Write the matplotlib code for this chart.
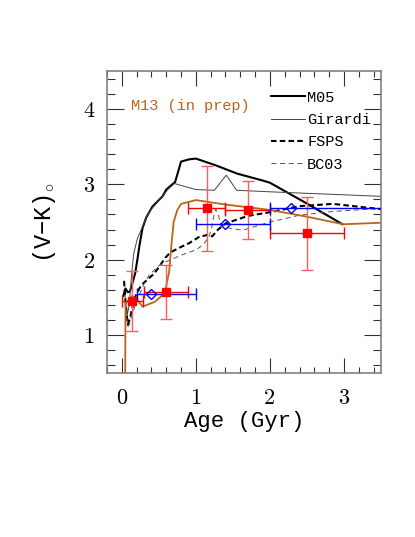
import matplotlib
matplotlib.use('Agg')
import matplotlib.pyplot as plt
from matplotlib.ticker import MultipleLocator
import numpy as np

plt.rcParams['font.family'] = 'cmr10'
plt.rcParams['axes.unicode_minus'] = False
plt.rcParams['mathtext.fontset'] = 'cm'
plt.rcParams['lines.scale_dashes'] = False

# ---------------- data ----------------
m05_age = [0.02, 0.05, 0.08, 0.11, 0.14, 0.18, 0.21, 0.24, 0.28, 0.33, 0.37, 0.41, 0.47, 0.55,
           0.60, 0.66, 0.72, 0.80, 0.91, 1.00, 1.27, 1.56, 1.90, 2.00, 2.49, 2.98]
m05_vk = [1.52, 1.62, 1.57, 1.58, 1.68, 1.82, 2.00, 2.20, 2.42, 2.56, 2.63, 2.70, 2.76, 2.84,
          2.93, 2.98, 3.03, 3.30, 3.33, 3.34, 3.25, 3.14, 3.05, 3.02, 2.75, 2.47]

gir_age = [0.04, 0.07, 0.10, 0.13, 0.16, 0.21, 0.28, 0.34, 0.39, 0.47, 0.55, 0.62, 0.71, 0.85,
           1.00, 1.25, 1.41, 1.55, 2.00, 2.50, 3.00, 3.50]
gir_vk = [1.55, 1.25, 1.40, 1.78, 2.08, 2.28, 2.44, 2.58, 2.66, 2.75, 2.84, 2.93, 3.01, 2.97,
          2.93, 2.92, 3.12, 2.92, 2.90, 2.88, 2.86, 2.84]

fsps_age = [0.03, 0.05, 0.08, 0.11, 0.14, 0.19, 0.26, 0.36, 0.44, 0.52, 0.59, 0.66, 0.80, 0.91,
            1.04, 1.16, 1.22, 1.30, 1.40, 1.70, 2.00, 2.40, 2.85, 3.50]
fsps_vk = [1.72, 1.45, 1.14, 1.22, 1.36, 1.53, 1.66, 1.75, 1.82, 1.93, 2.03, 2.10, 2.17, 2.22,
           2.30, 2.33, 2.31, 2.40, 2.48, 2.58, 2.63, 2.71, 2.74, 2.67]

bc03_age = [0.05, 0.08, 0.10, 0.13, 0.20, 0.30, 0.37, 0.50, 0.59, 0.80, 1.00, 1.10, 1.18, 1.22,
            1.25, 1.27, 1.31, 1.34, 1.45, 1.63, 2.00, 2.40, 2.85, 3.50]
bc03_vk = [1.45, 1.11, 1.14, 1.25, 1.45, 1.68, 1.80, 1.92, 1.97, 2.06, 2.13, 2.20, 2.31, 2.45,
           2.62, 2.67, 2.57, 2.46, 2.42, 2.39, 2.50, 2.59, 2.64, 2.68]

m13_age = [0.045, 0.05, 0.10, 0.14, 0.19, 0.28, 0.44, 0.55, 0.59, 0.64, 0.67, 0.70, 0.75, 0.80,
           1.00, 1.41, 2.00, 2.50, 2.99, 3.50]
m13_vk = [0.30, 1.42, 1.47, 1.52, 1.49, 1.38, 1.44, 1.53, 1.60, 1.85, 2.20, 2.50, 2.66, 2.74,
          2.79, 2.73, 2.66, 2.57, 2.47, 2.49]

red_age = [0.14, 0.60, 1.15, 1.70, 2.50]
red_vk = [1.45, 1.57, 2.68, 2.66, 2.35]
red_age_err = [0.14, 0.30, 0.25, 0.30, 0.50]
red_vk_err = [0.40, 0.36, 0.56, 0.38, 0.48]

blue_age = [0.40, 1.40, 2.28]
blue_vk = [1.54, 2.48, 2.69]
blue_age_lo = [0.20, 1.00, 2.00]
blue_age_hi = [1.00, 2.00, 4.00]

model_labels = ['M05', 'Girardi', 'FSPS', 'BC03']
x_ticks = [0, 1, 2, 3]
y_ticks = [1, 2, 3, 4]

ORANGE = '#b8651e'
MONO = 'Liberation Mono'

# ---------------- figure ----------------
fig = plt.figure(figsize=(4.15, 5.37), dpi=100)
ax = fig.add_axes([107 / 415, 164 / 537, 274 / 415, 302 / 537])

l1, = ax.plot(m05_age, m05_vk, color='black', lw=1.5, label=model_labels[0])
l2, = ax.plot(gir_age, gir_vk, color='#444444', lw=0.7, label=model_labels[1])
l3, = ax.plot(fsps_age, fsps_vk, color='black', lw=1.5, ls=(0, (4.0, 2.3)), label=model_labels[2])
l4, = ax.plot(bc03_age, bc03_vk, color='#555555', lw=0.7, ls=(0, (3.6, 2.6)), label=model_labels[3])
ax.plot(m13_age, m13_vk, color=ORANGE, lw=1.3)

# red data
ax.errorbar(red_age, red_vk, yerr=red_vk_err, fmt='none', ecolor='#ff5c5c',
            elinewidth=1.0, capsize=4.5, capthick=1.0, zorder=4)
ax.errorbar(red_age, red_vk, xerr=red_age_err, fmt='none', ecolor='red',
            elinewidth=1.0, capsize=4.5, capthick=1.0, zorder=4)
ax.plot(red_age, red_vk, 's', color='red', ms=6, zorder=5)

# blue data
b_age = np.array(blue_age)
b_err = [b_age - np.array(blue_age_lo), np.array(blue_age_hi) - b_age]
ax.errorbar(blue_age, blue_vk, xerr=b_err, fmt='none', ecolor='blue',
            elinewidth=1.0, capsize=4.5, capthick=1.0, zorder=4)
ax.plot(blue_age, blue_vk, 'D', mfc='none', mec='blue', mew=1.0, ms=5.3, zorder=5)

ax.set_xlim(-0.2, 3.5)
ax.set_ylim(0.5, 4.5)
ax.set_xticks(x_ticks)
ax.set_yticks(y_ticks)
ax.xaxis.set_minor_locator(MultipleLocator(0.2))
ax.yaxis.set_minor_locator(MultipleLocator(0.2))
ax.tick_params(which='both', direction='in', top=True, right=True, color='#333333', width=0.8)
ax.tick_params(axis='x', which='major', length=11, labelsize=16, pad=11)
ax.tick_params(axis='x', which='minor', length=4.5)
ax.tick_params(axis='y', which='major', length=12.5, labelsize=16, pad=9)
ax.tick_params(axis='y', which='minor', length=6)
for s in ax.spines.values():
    s.set_color('#808080')
    s.set_linewidth(1.2)

ax.set_xlabel('Age (Gyr)', family=MONO, fontsize=16)
ax.xaxis.set_label_coords(0.5, -0.125)
ax.set_ylabel('(V\u2212K)$_{\\circ}$', family=MONO, fontsize=17)
ax.yaxis.set_label_coords(-0.18, 0.5)

ax.text(0.0876, 0.872, 'M13 (in prep)', transform=ax.transAxes, color=ORANGE,
        family=MONO, fontsize=11, va='baseline', ha='left')

ax.legend(handles=[l1, l2, l3, l4], loc='upper left', bbox_to_anchor=(0.597, 0.935),
          frameon=False, prop={'family': MONO, 'size': 11}, handlelength=2.25,
          handletextpad=0.15, labelspacing=0.55, borderpad=0, borderaxespad=0)

fig.savefig('out.png', dpi=100)
